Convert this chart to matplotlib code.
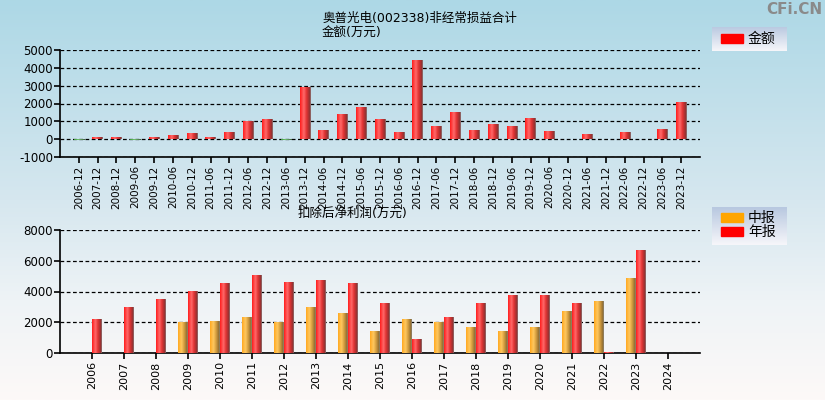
import numpy as np
import matplotlib
matplotlib.use("Agg")
import matplotlib.pyplot as plt
from matplotlib.colors import LinearSegmentedColormap
from matplotlib.patches import Rectangle

plt.rcParams['font.family'] = ['DejaVu Sans', 'Noto Sans CJK SC']
plt.rcParams['axes.unicode_minus'] = False

# --- data: non-recurring gains/losses (10k yuan) ---
periods = ['2006-12', '2007-12', '2008-12', '2009-06', '2009-12', '2010-06', '2010-12',
           '2011-06', '2011-12', '2012-06', '2012-12', '2013-06', '2013-12', '2014-06',
           '2014-12', '2015-06', '2015-12', '2016-06', '2016-12', '2017-06', '2017-12',
           '2018-06', '2018-12', '2019-06', '2019-12', '2020-06', '2020-12', '2021-06',
           '2021-12', '2022-06', '2022-12', '2023-06', '2023-12']
amount = [-40, 90, 90, -40, 90, 200, 310, 90, 370, 990, 1100, -40, 2900, 490,
          1360, 1780, 1100, 370, 4390, 690, 1480, 470, 800, 690, 1140, 410, 0, 240,
          0, 355, 0, 520, 2040]

# --- data: net profit after deduction (10k yuan) ---
years = ['2006', '2007', '2008', '2009', '2010', '2011', '2012', '2013', '2014', '2015',
         '2016', '2017', '2018', '2019', '2020', '2021', '2022', '2023', '2024']
half_year = [None, None, None, 1970, 2020, 2340, 1970, 2930, 2540, 1370,
             2210, 1970, 1690, 1370, 1630, 2670, 3320, 4820, None]
full_year = [2150, 2930, 3510, 4030, 4490, 5010, 4560, 4690, 4490, 3250,
             850, 2340, 3250, 3710, 3770, 3190, 60, 6640, None]

red_cmap = LinearSegmentedColormap.from_list(
    'r', [(0, '#ff1c1c'), (0.35, '#ff6a6a'), (0.6, '#e33434'), (0.92, '#8c3030'), (1, '#909090')])
org_cmap = LinearSegmentedColormap.from_list(
    'o', [(0, '#ffa820'), (0.35, '#ffc860'), (0.6, '#d8a040'), (0.92, '#8c6a30'), (1, '#909090')])
grn_cmap = LinearSegmentedColormap.from_list(
    'g', [(0, '#3a9a3a'), (0.4, '#70c070'), (1, '#406040')])
grad = np.linspace(0, 1, 64).reshape(1, -1)


def grad_bar(ax, x0, w, h, cmap):
    if h is None or h == 0:
        return
    lo, hi = min(0, h), max(0, h)
    ax.imshow(grad, cmap=cmap, extent=(x0, x0 + w, lo, hi), aspect='auto',
              interpolation='bilinear', zorder=3)


fig = plt.figure(figsize=(8.25, 4), dpi=100)

# background gradient
bg = fig.add_axes([0, 0, 1, 1], zorder=-10)
bg_cmap = LinearSegmentedColormap.from_list(
    'bg', [(0, '#fdf9f8'), (0.25, '#eef3f6'), (0.5, '#d6e7ef'), (1, '#add8e6')])
bg.imshow(np.linspace(0, 1, 256).reshape(-1, 1), cmap=bg_cmap, origin='lower',
          extent=(0, 1, 0, 1), aspect='auto')
bg.set_axis_off()


def style_axes(ax):
    ax.patch.set_alpha(0)
    for s in ['top', 'right']:
        ax.spines[s].set_visible(False)
    ax.spines['left'].set_linewidth(1.2)
    ax.spines['bottom'].set_linewidth(1.2)
    ax.yaxis.grid(True, linestyle=(0, (3, 2)), color='black', linewidth=0.9)
    ax.set_axisbelow(True)
    ax.tick_params(axis='y', labelsize=8.5, length=4, width=1.2, pad=1)
    ax.tick_params(axis='x', labelsize=7.5, length=4, width=1.2, rotation=90, pad=2)


# ---- top chart ----
ax1 = fig.add_axes([60 / 825, 1 - 157 / 400, 640 / 825, 107 / 400])
style_axes(ax1)
w1 = 0.55
for i, v in enumerate(amount):
    grad_bar(ax1, i - w1 / 2, w1, v, red_cmap if v >= 0 else grn_cmap)
ax1.set_xlim(-1, len(periods))
ax1.set_ylim(-1000, 5000)
ax1.set_yticks(range(-1000, 5001, 1000))
ax1.set_xticks(range(len(periods)))
ax1.set_xticklabels(periods)

# ---- bottom chart ----
ax2 = fig.add_axes([60 / 825, 1 - 353 / 400, 640 / 825, 123 / 400])
style_axes(ax2)
w2 = 0.31
for i in range(len(years)):
    grad_bar(ax2, i - w2, w2, half_year[i], org_cmap)
    grad_bar(ax2, i, w2, full_year[i], red_cmap)
ax2.set_xlim(-1, len(years))
ax2.set_ylim(0, 8000)
ax2.set_yticks(range(0, 8001, 2000))
ax2.set_xticks(range(len(years)))
ax2.set_xticklabels(years)
ax2.tick_params(axis='x', labelsize=8)

# ---- titles ----
fig.text(323 / 825, 1 - 18 / 400, '奥普光电(002338)非经常损益合计', fontsize=9, va='center', ha='left')
fig.text(322 / 825, 1 - 32 / 400, '金额(万元)', fontsize=9, va='center', ha='left')
fig.text(298 / 825, 1 - 213 / 400, '扣除后净利润(万元)', fontsize=9, va='center', ha='left')
fig.text(822 / 825, 1 - 10 / 400, 'CFi.CN', fontsize=11, fontweight='bold', color='#8a8a8a',
         va='center', ha='right')

# ---- legends ----
leg_cmap = LinearSegmentedColormap.from_list('lg', ['#f6f6fa', '#b8c8e0'])


def legend_box(y_top, y_bot, items):
    lax = fig.add_axes([712 / 825, 1 - y_bot / 400, 75 / 825, (y_bot - y_top) / 400])
    lax.imshow(np.linspace(0, 1, 64).reshape(-1, 1), cmap=leg_cmap, origin='lower',
               extent=(0, 1, 0, 1), aspect='auto')
    lax.set_xlim(0, 1)
    lax.set_ylim(0, 1)
    lax.set_axis_off()
    h = y_bot - y_top
    for label, color, yc in items:
        yf = 1 - (yc - y_top) / h
        lax.add_patch(Rectangle((9 / 75, yf - 4.5 / h), 22 / 75, 9 / h, color=color))
        lax.text(36 / 75, yf, label, fontsize=10, va='center', ha='left')


legend_box(27, 51, [('金额', '#ff0000', 38.5)])
legend_box(207, 245, [('中报', '#ffa500', 217.5), ('年报', '#ff0000', 231.5)])

fig.savefig('out.png', dpi=100)
